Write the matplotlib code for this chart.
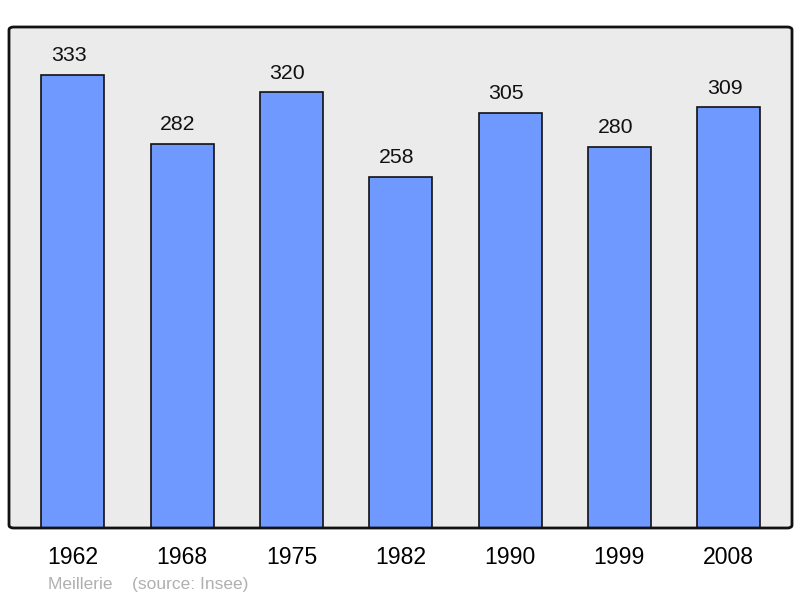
import matplotlib
matplotlib.use("Agg")
import matplotlib.pyplot as plt
from matplotlib.patches import FancyBboxPatch

plt.rcParams["font.family"] = ["Liberation Sans", "DejaVu Sans"]

years = ["1962", "1968", "1975", "1982", "1990", "1999", "2008"]
population = [333, 282, 320, 258, 305, 280, 309]

fig = plt.figure(figsize=(8.0, 5.98), dpi=100)
ax = fig.add_axes([9 / 800, 70 / 598, 783 / 800, 501 / 598])
ax.set_facecolor("#ebebeb")

x = list(range(len(years)))
ax.bar(x, population, width=0.577, color="#7099ff", edgecolor="#111111", linewidth=1.2, zorder=2)
for xi, v in zip(x, population):
    ax.annotate(str(v), (xi, v), xytext=(-3, 7), textcoords="offset points",
                ha="center", va="bottom", fontsize=15.3, color="#111111")

ax.set_xlim(-0.585, len(years) - 1 + 0.58)
ax.set_ylim(0, 368)
ax.set_xticks(x)
ax.set_xticklabels(years, fontsize=16.6)
ax.tick_params(axis="x", length=0, pad=13)
ax.set_yticks([])
for s in ax.spines.values():
    s.set_visible(False)

# rounded frame
frame = FancyBboxPatch((0, 0), 1, 1, boxstyle="round,pad=0,rounding_size=0.006",
                       transform=ax.transAxes, facecolor="none", edgecolor="#111111",
                       linewidth=2, zorder=5, clip_on=False)
ax.add_patch(frame)

fig.text(48 / 800, 1 - 584 / 598, "Meillerie    (source: Insee)", fontsize=12.5,
         color="#b0b0b0", va="center", ha="left")

fig.savefig("out.png", dpi=100)
